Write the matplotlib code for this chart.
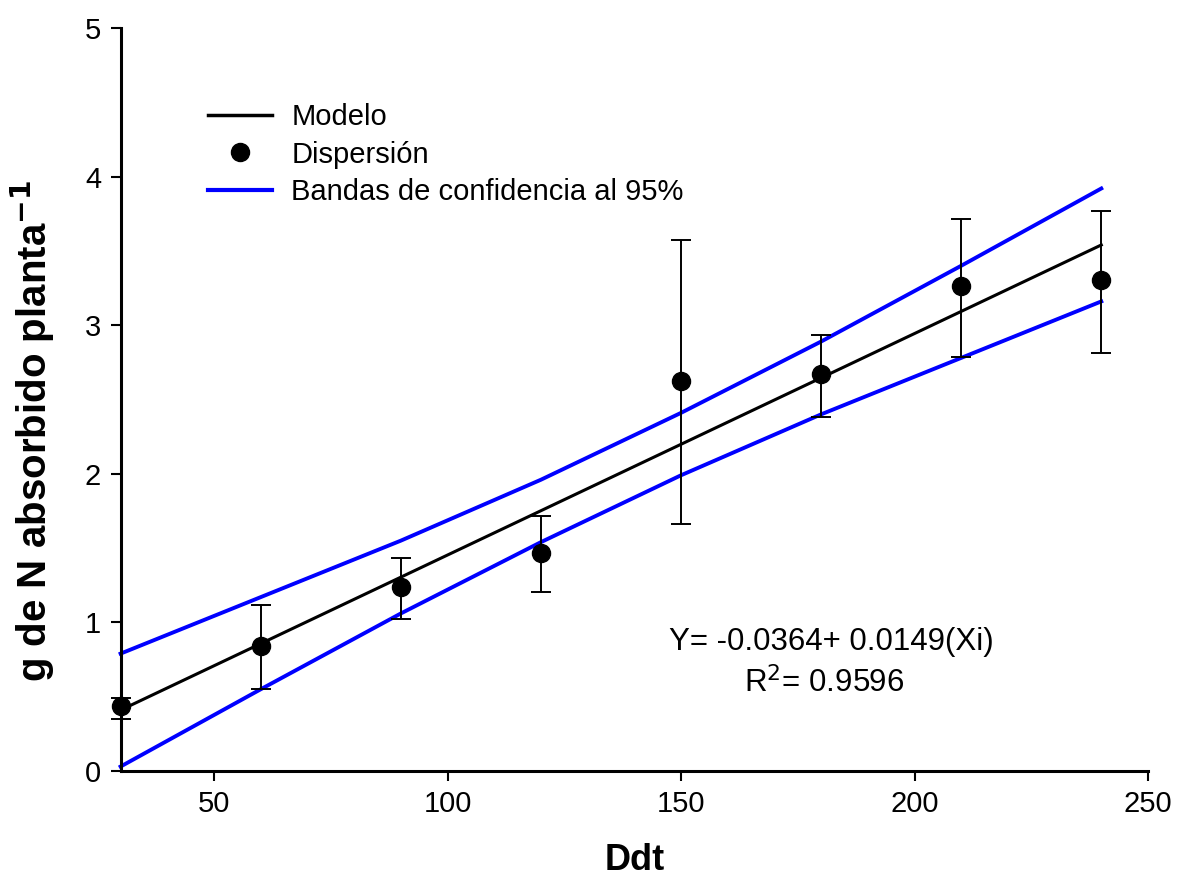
import matplotlib
matplotlib.use("Agg")
import matplotlib.pyplot as plt
from matplotlib.lines import Line2D

plt.rcParams['font.family'] = ['Liberation Sans', 'DejaVu Sans']

# Data
ddt = [30, 60, 90, 120, 150, 180, 210, 240]
n_abs = [0.437, 0.843, 1.24, 1.469, 2.627, 2.672, 3.264, 3.304]
err_upper = [0.493, 1.12, 1.435, 1.716, 3.573, 2.932, 3.717, 3.768]
err_lower = [0.348, 0.55, 1.02, 1.207, 1.662, 2.384, 2.788, 2.813]

model_x = [30, 240]
model_y = [0.41, 3.54]

band_x = [30, 60, 90, 120, 150, 180, 210, 240]
band_upper = [0.79, 1.17, 1.55, 1.96, 2.41, 2.89, 3.40, 3.92]
band_lower = [0.03, 0.55, 1.06, 1.54, 1.99, 2.40, 2.78, 3.16]

x_ticks = [50, 100, 150, 200, 250]
y_ticks = [0, 1, 2, 3, 4, 5]

fig = plt.figure(figsize=(11.78, 8.94), dpi=100)
W, H = 1178, 894
ax = fig.add_axes([120.6 / W, 1 - 771 / H, (1148 - 120.6) / W, (771 - 28) / H])

ax.plot(band_x, band_upper, color='#0000ff', lw=2.8, clip_on=False, zorder=2)
ax.plot(band_x, band_lower, color='#0000ff', lw=2.8, clip_on=False, zorder=2)
ax.plot(model_x, model_y, color='black', lw=2.2, clip_on=False, zorder=3)

yerr = [[v - lo for v, lo in zip(n_abs, err_lower)],
        [hi - v for v, hi in zip(n_abs, err_upper)]]
eb = ax.errorbar(ddt, n_abs, yerr=yerr, fmt='o', color='black', ms=13,
                 ecolor='black', elinewidth=1.4, capsize=7.5, capthick=1.4,
                 zorder=4)
for art in eb.lines[0:1] + tuple(eb.lines[1]) + tuple(eb.lines[2]):
    art.set_clip_on(False)

ax.set_xlim(30, 250)
ax.set_ylim(0, 5)
ax.set_xticks(x_ticks)
ax.set_yticks(y_ticks)
ax.spines['top'].set_visible(False)
ax.spines['right'].set_visible(False)
ax.spines['left'].set_linewidth(2.2)
ax.spines['bottom'].set_linewidth(2.2)
ax.tick_params(axis='both', direction='out', length=7, width=1.5,
               labelsize=21, pad=7)

ax.set_xlabel('Ddt', fontsize=26, fontweight='bold', labelpad=18)
ax.set_ylabel('g de N absorbido planta$^{\\mathbf{-1}}$', fontsize=29,
              fontweight='bold')
ax.yaxis.set_label_coords(-0.062, 0.458)

handles = [
    Line2D([], [], color='black', lw=2.5),
    Line2D([], [], color='black', marker='o', ls='none', ms=13),
    Line2D([], [], color='#0000ff', lw=3),
]
labels = ['Modelo', 'Dispersión', 'Bandas de confidencia al 95%']
ax.legend(handles, labels, loc='upper left',
          bbox_to_anchor=((208 - 120.6) / (1148 - 120.6), (771 - 103) / 743),
          frameon=False, fontsize=21, handlelength=2.2, handletextpad=0.65,
          labelspacing=0.33, borderpad=0, borderaxespad=0)

ax.text(147.5, 0.814, 'Y= -0.0364+ 0.0149(Xi)', fontsize=22.5, ha='left',
        va='baseline')
ax.text(163.5, 0.53, 'R$^2$= 0.9596', fontsize=22.5, ha='left', va='baseline')

fig.savefig('out.png', dpi=100)
